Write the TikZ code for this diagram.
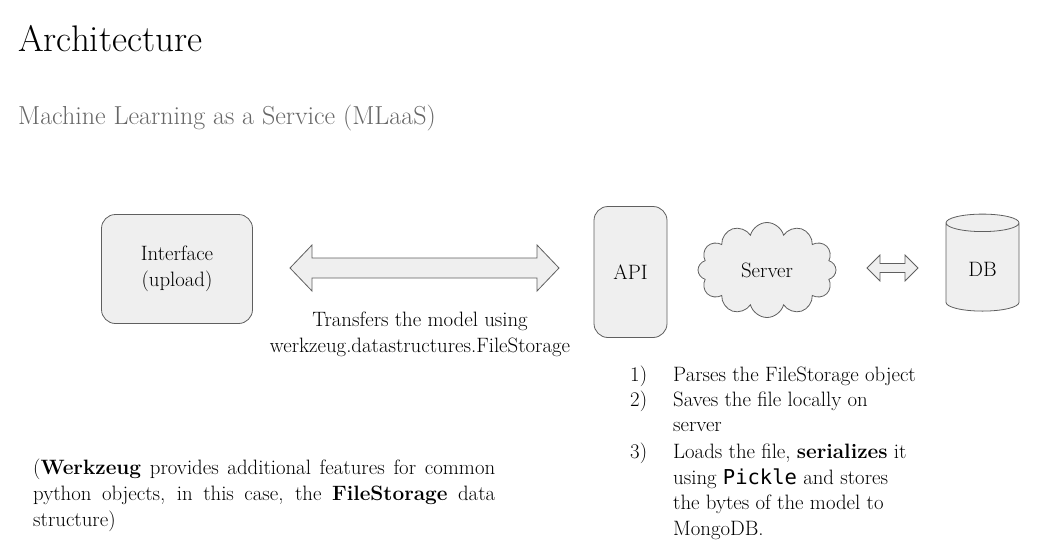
\documentclass[tikz,border=0pt]{standalone}
\usepackage{fontspec}
\newfontfamily\codefont{DejaVu Sans Mono}
\usetikzlibrary{shapes.geometric,shapes.symbols,calc}
\definecolor{boxfill}{HTML}{EFEFEF}
\definecolor{boxline}{HTML}{5F5F5F}
\definecolor{subgray}{HTML}{666666}
\newcommand{\bodysize}{\fontsize{20.8}{26}\selectfont}
% fat double arrow: from, to, head length, head half width, shaft half width
\newcommand{\fatarrow}[5]{
\draw[arrowbody] (#1) -- ++(#3,-#4) -- ++(0,{#4-#5}) -- ($(#2)+(-#3,-#5)$) -- ++(0,{#5-#4}) -- (#2) -- ++(-#3,#4) -- ++(0,{#5-#4}) -- ($(#1)+(#3,#5)$) -- ++(0,{#4-#5}) -- cycle;}
\tikzset{
  block/.style={draw=boxline, fill=boxfill, rounded corners=14pt, line width=0.8pt, align=center, font=\bodysize},
  arrowbody/.style={draw=boxline, fill=boxfill, line width=0.8pt, line join=miter},
  txt/.style={anchor=base west, inner sep=0pt, font=\bodysize}
}
\begin{document}
\begin{tikzpicture}[x=1pt,y=-1pt]
\useasboundingbox (0,0) rectangle (1041,554);
\node[anchor=base west, inner sep=0pt, font=\fontsize{37}{42}\selectfont] (title) at (18,51) {Architecture};
\node[anchor=base west, inner sep=0pt, text=subgray, font=\fontsize{26}{30}\selectfont] (subtitle) at (18,124) {Machine Learning as a Service (MLaaS)};
\node[block, minimum width=151, minimum height=109] (iface) at (177,269) {Interface\\(upload)};
\node[block, minimum width=73, minimum height=131] (api) at (630.5,272) {API};
\node[cloud, cloud puffs=12, aspect=1.5, draw=boxline, fill=boxfill, line width=0.8pt, inner sep=0pt, minimum width=138, minimum height=95, font=\bodysize] (srv) at (767,270) {Server};
\node[cylinder, shape border rotate=90, aspect=0.5, draw=boxline, fill=boxfill, line width=0.8pt, minimum width=73, minimum height=97, font=\bodysize] (db) at (982.5,269) {DB};
\coordinate (bigL) at (290,268);
\coordinate (bigR) at (559,268);
\coordinate (smallL) at (867,268);
\coordinate (smallR) at (918,268);
\fatarrow{bigL}{bigR}{22}{23}{10}
\fatarrow{smallL}{smallR}{13}{13}{4.5}
\node[anchor=base, inner sep=0pt, font=\bodysize] (xfer1) at (420,326) {Transfers the model using};
\node[anchor=base, inner sep=0pt, font=\bodysize] (xfer2) at (420,352) {werkzeug.datastructures.FileStorage};
%list of steps on the server
\node[txt] (n1) at (630,381) {1)};
\node[txt] (s1) at (673,381) {Parses the FileStorage object};
\node[txt] (n2) at (630,406) {2)};
\node[txt] (s2) at (673,406) {Saves the file locally on};
\node[txt] (s2b) at (673,431) {server};
\node[txt] (n3) at (630,458) {3)};
\node[txt] (s3) at (673,458) {Loads the file, \textbf{serializes} it};
\node[txt] (s3b) at (673,484) {using {\codefont\fontsize{20.5}{25}\selectfont Pickle} and stores};
\node[txt] (s3c) at (673,509) {the bytes of the model to};
\node[txt] (s3d) at (673,535) {MongoDB.};
%note on werkzeug
\node[txt] (note1) at (33,474) {\makebox[462pt][s]{(\textbf{Werkzeug} provides additional features for common}};
\node[txt] (note2) at (33,500) {\makebox[462pt][s]{python objects, in this case, the \textbf{FileStorage} data}};
\node[txt] (note3) at (33,526) {structure)};
\end{tikzpicture}
\end{document}
